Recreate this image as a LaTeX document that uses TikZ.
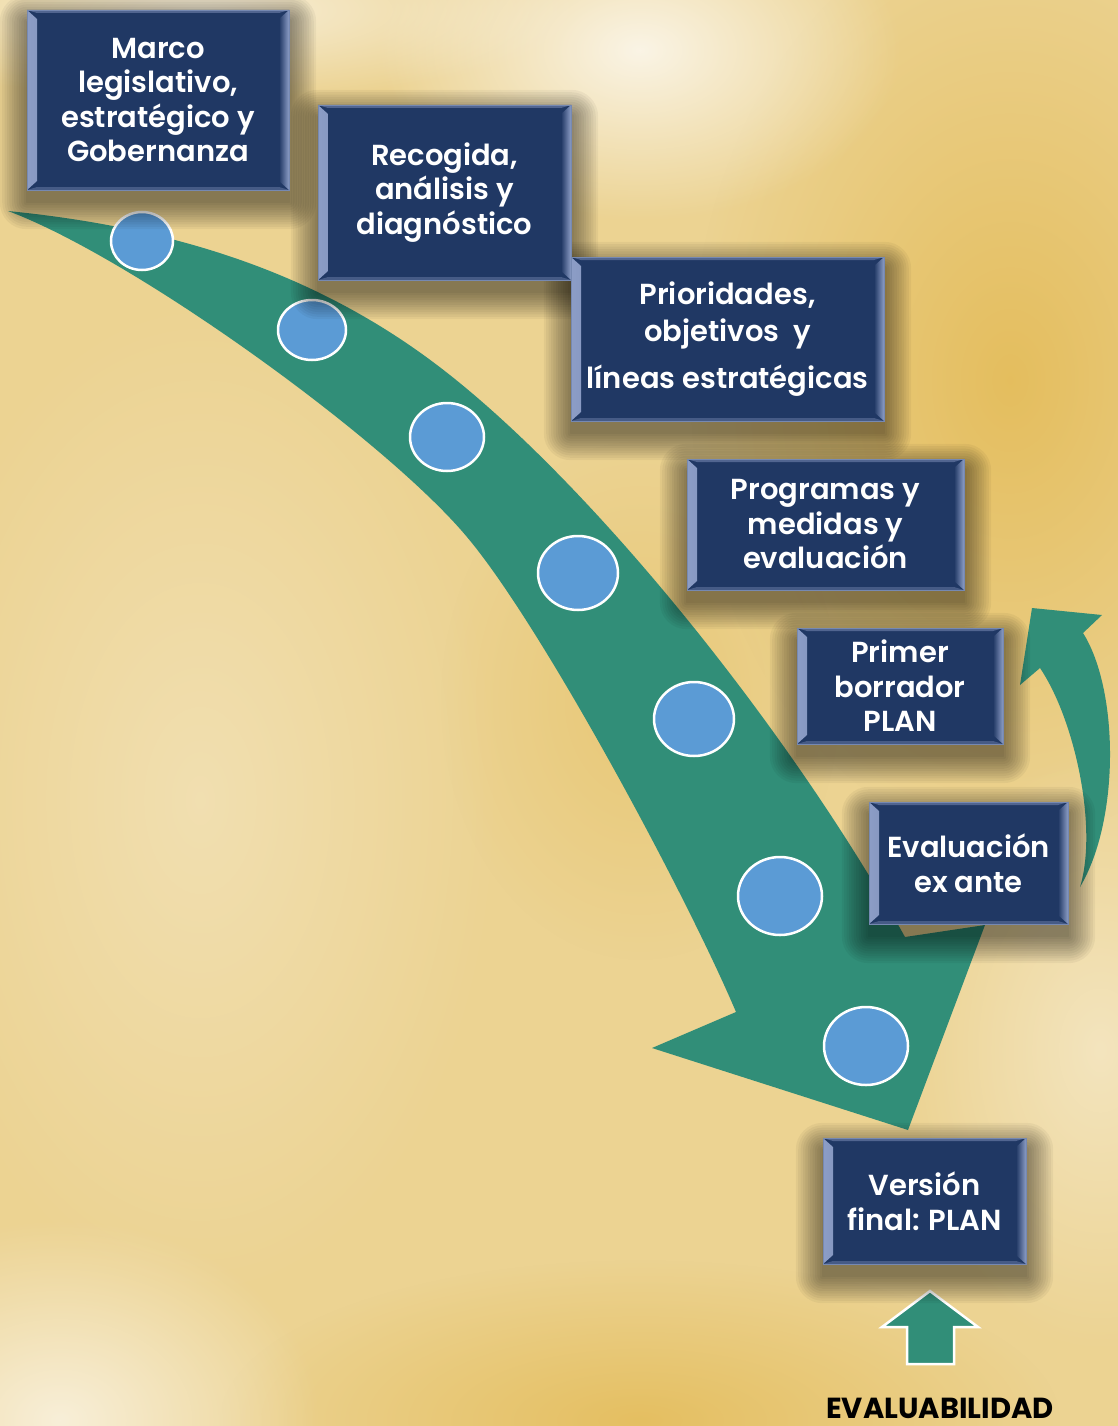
\documentclass[tikz,border=0pt]{standalone}
\usepackage{fontspec}
\setmainfont{Poppins}[BoldFont={Poppins SemiBold}]
\newfontfamily\heavyfont{Poppins}
\usetikzlibrary{shapes.geometric,fadings}
\tikzfading[name=softblob, inner color=transparent!0, outer color=transparent!100]
\pgfdeclarelayer{shade}
\pgfdeclarelayer{front}
\pgfsetlayers{main,shade,front}
\definecolor{navy}{HTML}{203864}
\definecolor{bevel}{HTML}{8C9DC6}
\definecolor{myteal}{HTML}{318E78}
\definecolor{dot}{HTML}{5B9BD5}
\definecolor{bg}{HTML}{ECD392}
\definecolor{gold}{HTML}{E3BA55}
\definecolor{cream}{HTML}{FBF6EA}
\tikzset{
  stepbox/.style={rectangle, fill=navy, draw=bevel!80!navy, line width=0.8pt,
    text=white, align=center, inner sep=0pt,
    font=\bfseries\fontsize{29}{34.5}\selectfont,
    path picture={
      \shade[left color=bevel, right color=navy]
        (path picture bounding box.north west) -- ++(10pt,-9pt)
        -- ([xshift=10pt,yshift=9pt]path picture bounding box.south west)
        -- (path picture bounding box.south west) -- cycle;
      \shade[left color=navy, right color=bevel]
        (path picture bounding box.north east) -- ++(-10pt,-9pt)
        -- ([xshift=-10pt,yshift=9pt]path picture bounding box.south east)
        -- (path picture bounding box.south east) -- cycle;
      \fill[bevel!45!navy]
        (path picture bounding box.north west) -- ++(10pt,-3pt) -- ([xshift=-10pt,yshift=-3pt]path picture bounding box.north east) -- (path picture bounding box.north east) -- cycle;
      \fill[bevel!35!navy]
        (path picture bounding box.south west) -- ++(10pt,3pt) -- ([xshift=-10pt,yshift=3pt]path picture bounding box.south east) -- (path picture bounding box.south east) -- cycle;
    }},
  dotnode/.style={ellipse, fill=dot, draw=white, line width=2.5pt, inner sep=0pt},
  bigarrow/.style={fill=myteal},
  shadestep/.style={fill=black, opacity=0.042}
}
\newcommand\boxshade[1]{%
  \foreach \k in {1,...,12}{%
    \pgfmathsetmacro\rr{\k*2.4-2}%
    \fill[shadestep, rounded corners=\rr pt]
      ([xshift=-\rr pt, yshift=-12pt-\rr pt]#1.south west) rectangle
      ([xshift=\rr pt, yshift=-12pt+\rr pt]#1.north east);}}
\begin{document}
\begin{tikzpicture}[x=1pt,y=-1pt]
\useasboundingbox (0,0) rectangle (1118,1426);
% background
\fill[bg] (0,0) rectangle (1118,1426);
\fill[gold, path fading=softblob, opacity=0.85] (1010,380) ellipse [x radius=320pt, y radius=460pt];
\fill[gold, path fading=softblob, opacity=0.8] (640,1420) ellipse [x radius=420pt, y radius=160pt];
\fill[gold, path fading=softblob, opacity=0.45] (640,700) ellipse [x radius=200pt, y radius=260pt];
\fill[cream, path fading=softblob, opacity=0.95] (640,50) ellipse [x radius=260pt, y radius=170pt];
\fill[cream, path fading=softblob, opacity=0.8] (200,10) ellipse [x radius=380pt, y radius=90pt];
\fill[cream, path fading=softblob, opacity=0.8] (60,1420) ellipse [x radius=260pt, y radius=200pt];
\fill[cream, path fading=softblob, opacity=0.5] (1100,1050) ellipse [x radius=200pt, y radius=300pt];
\fill[cream, path fading=softblob, opacity=0.35] (200,800) ellipse [x radius=300pt, y radius=500pt];
% big curved arrow
\fill[bigarrow] (8,211) .. controls (158,226) and (303,265) .. (433,362)
  .. controls (583,474) and (785,722) .. (905,937)
  -- (985,925) -- (908,1130) -- (652,1048) -- (736,1012)
  .. controls (686,894) and (542,626) .. (467,537)
  .. controls (386,440) and (134,258) .. (8,211) -- cycle;
% right curved arrow
\fill[bigarrow] (1080,887) .. controls (1120,820) and (1119,690) .. (1083,633)
  -- (1102,615) -- (1032,608) -- (1020,685) -- (1040,668)
  .. controls (1075,720) and (1098,828) .. (1080,887) -- cycle;
% dots
\node[dotnode, minimum width=62pt, minimum height=58pt] (c1) at (142,241) {};
\node[dotnode, minimum width=68pt, minimum height=60pt] (c2) at (312,330) {};
\node[dotnode, minimum width=74pt, minimum height=68pt] (c3) at (447,437) {};
\node[dotnode, minimum width=80pt, minimum height=74pt] (c4) at (578,573) {};
\node[dotnode, minimum width=80pt, minimum height=74pt] (c5) at (694,719) {};
\node[dotnode, minimum width=84pt, minimum height=78pt] (c6) at (780,896) {};
\node[dotnode, minimum width=84pt, minimum height=78pt] (c7) at (866,1046) {};
% boxes
\begin{pgfonlayer}{front}
\node[stepbox, minimum width=262pt, minimum height=180pt] (b1) at (158,100) {Marco\\legislativo,\\estratégico y\\Gobernanza};
\node[stepbox, minimum width=253pt, minimum height=175pt] (b2) at (444.5,192.5) {Recogida,\\análisis y\\diagnóstico};
\node[stepbox, minimum width=313pt, minimum height=164pt] (b3) at (727.5,339) {Prioridades,\\[3pt]objetivos\ \ y\\[12pt]líneas estratégicas};
\node[stepbox, minimum width=277pt, minimum height=131pt] (b4) at (825.5,524.5) {Programas y\\medidas y\\evaluación};
\node[stepbox, minimum width=206pt, minimum height=116pt] (b5) at (900,686) {Primer\\borrador\\PLAN};
\node[stepbox, minimum width=199pt, minimum height=122pt] (b6) at (968.5,863) {Evaluación\\ex ante};
\node[stepbox, minimum width=203pt, minimum height=126pt] (b7) at (924.5,1201) {Versión\\final: PLAN};
\end{pgfonlayer}
\begin{pgfonlayer}{shade}
\boxshade{b1}\boxshade{b2}\boxshade{b3}\boxshade{b4}\boxshade{b5}\boxshade{b6}\boxshade{b7}
\end{pgfonlayer}
% up arrow
\filldraw[fill=myteal, draw=white, line width=2.5pt] (930,1291) -- (978,1327) -- (954,1327) -- (954,1364) -- (907,1364) -- (907,1327) -- (882,1327) -- cycle;
\node[anchor=base, font=\heavyfont\bfseries\fontsize{29}{32}\selectfont, text=black, inner sep=0pt] (ev) at (940,1418) {EVALUABILIDAD};
\end{tikzpicture}
\end{document}
